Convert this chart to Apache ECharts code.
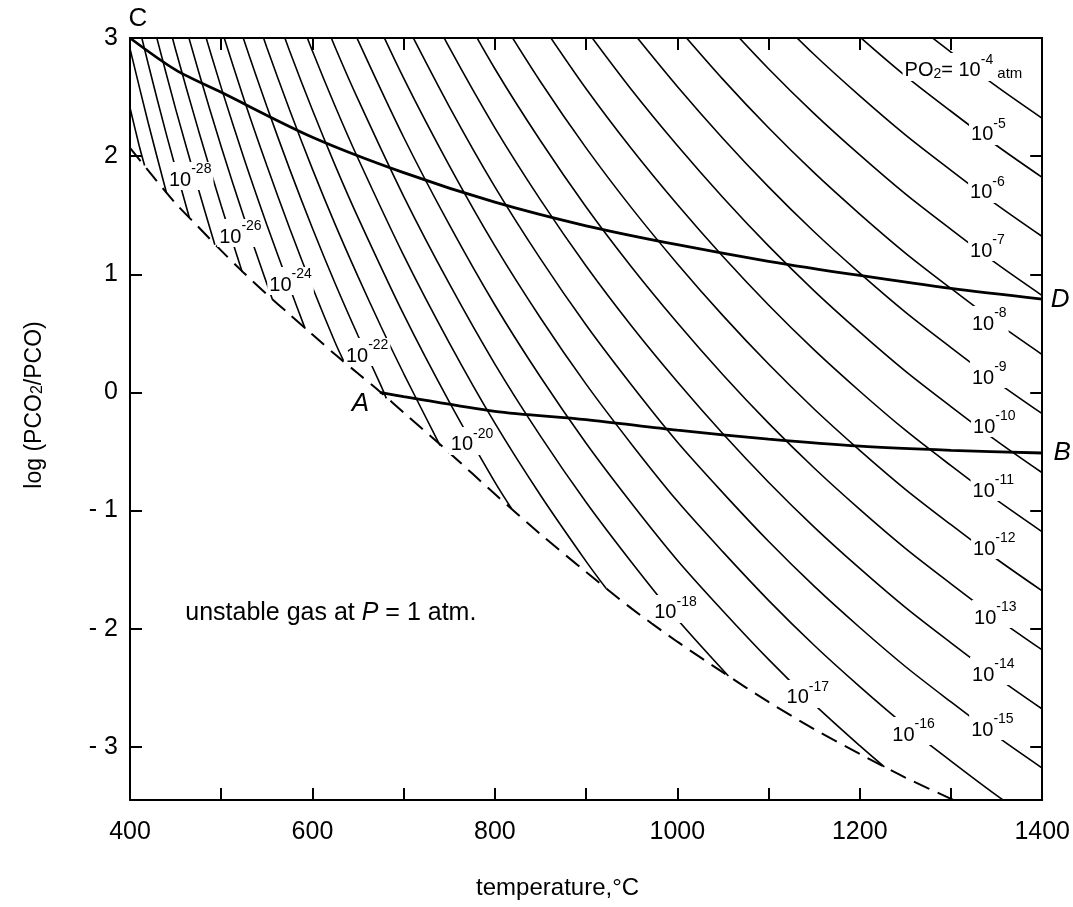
<!DOCTYPE html>
<html>
<head>
<meta charset="utf-8">
<title>log(pCO2/pCO) vs temperature</title>
<script src="https://cdn.jsdelivr.net/npm/echarts@6/dist/echarts.min.js"></script>
<style>
  html, body { margin: 0; padding: 0; background: #fff; }
  #main { width: 1073px; height: 907px; }
</style>
</head>
<body>
<div id="main"></div>
<script>
const FONT = '"Liberation Sans", Arial, Helvetica, sans-serif';

// axis ticks / labels
const xLabelValues = [400, 600, 800, 1000, 1200, 1400];
const yTickValues = [-3, -2, -1, 0, 1, 2, 3];

// pO2 isobars (exponent of 10, atm) as [temperature °C, log ratio]
const po2Exponents = [-4, -5, -6, -7, -8, -9, -10, -11, -12, -13, -14, -15, -16, -17,
  -18, -19, -20, -21, -22, -23, -24, -25, -26, -27, -28, -29, -30];
const isobarLines = [
  [[1250, 3.18], [1300, 2.88], [1350, 2.59], [1400, 2.32]],
  [[1150, 3.36], [1200, 3.01], [1250, 2.68], [1300, 2.38], [1350, 2.09], [1400, 1.82]],
  [[1100, 3.24], [1150, 2.86], [1200, 2.51], [1250, 2.18], [1300, 1.88], [1350, 1.59], [1400, 1.32]],
  [[1050, 3.15], [1100, 2.74], [1150, 2.36], [1200, 2.01], [1250, 1.68], [1300, 1.38], [1350, 1.09], [1400, 0.82]],
  [[1000, 3.09], [1050, 2.65], [1100, 2.24], [1150, 1.86], [1200, 1.51], [1250, 1.18], [1300, 0.88], [1350, 0.59], [1400, 0.32]],
  [[950, 3.06], [1000, 2.59], [1050, 2.15], [1100, 1.74], [1150, 1.36], [1200, 1.01], [1250, 0.68], [1300, 0.38], [1350, 0.09], [1400, -0.18]],
  [[900, 3.07], [950, 2.56], [1000, 2.09], [1050, 1.65], [1100, 1.24], [1150, 0.86], [1200, 0.51], [1250, 0.18], [1300, -0.12], [1350, -0.41], [1400, -0.68]],
  [[850, 3.13], [900, 2.57], [950, 2.06], [1000, 1.59], [1050, 1.15], [1100, 0.74], [1150, 0.36], [1200, 0.01], [1250, -0.32], [1300, -0.62], [1350, -0.91], [1400, -1.18]],
  [[800, 3.24], [850, 2.63], [900, 2.07], [950, 1.56], [1000, 1.09], [1050, 0.65], [1100, 0.24], [1150, -0.14], [1200, -0.49], [1250, -0.82], [1300, -1.12], [1350, -1.41], [1400, -1.68]],
  [[750, 3.42], [800, 2.74], [850, 2.13], [900, 1.57], [950, 1.06], [1000, 0.59], [1050, 0.15], [1100, -0.26], [1150, -0.64], [1200, -0.99], [1250, -1.32], [1300, -1.62], [1350, -1.91], [1400, -2.18]],
  [[700, 3.66], [750, 2.92], [800, 2.24], [850, 1.63], [900, 1.07], [950, 0.56], [1000, 0.09], [1050, -0.35], [1100, -0.76], [1150, -1.14], [1200, -1.49], [1250, -1.82], [1300, -2.12], [1350, -2.41], [1400, -2.68]],
  [[700, 3.16], [750, 2.42], [800, 1.74], [850, 1.13], [900, 0.57], [950, 0.06], [1000, -0.42], [1050, -0.85], [1100, -1.26], [1150, -1.64], [1200, -1.99], [1250, -2.32], [1300, -2.62], [1350, -2.91], [1400, -3.18]],
  [[650, 3.48], [700, 2.66], [750, 1.92], [800, 1.24], [850, 0.63], [900, 0.07], [950, -0.44], [1000, -0.92], [1050, -1.35], [1100, -1.76], [1150, -2.14], [1200, -2.49], [1250, -2.82], [1300, -3.12], [1350, -3.41], [1400, -3.68]],
  [[625, 3.42], [650, 2.98], [700, 2.16], [750, 1.42], [800, 0.74], [850, 0.13], [900, -0.43], [950, -0.94], [1000, -1.42], [1050, -1.85], [1100, -2.26], [1150, -2.64], [1200, -2.99], [1227, -3.17]],
  [[600, 3.39], [625, 2.92], [650, 2.48], [700, 1.66], [750, 0.92], [800, 0.24], [850, -0.37], [900, -0.93], [950, -1.44], [1000, -1.92], [1056, -2.40]],
  [[575, 3.39], [600, 2.89], [625, 2.42], [650, 1.98], [700, 1.16], [750, 0.42], [800, -0.26], [850, -0.87], [900, -1.43], [922, -1.66]],
  [[550, 3.42], [575, 2.89], [600, 2.39], [625, 1.92], [650, 1.48], [700, 0.66], [750, -0.08], [800, -0.76], [818, -0.98]],
  [[525, 3.48], [550, 2.92], [575, 2.39], [600, 1.89], [625, 1.42], [650, 0.98], [675, 0.56], [700, 0.16], [740, -0.45]],
  [[500, 3.58], [525, 2.98], [550, 2.42], [575, 1.89], [600, 1.39], [625, 0.92], [650, 0.48], [675, 0.06], [681, -0.05]],
  [[500, 3.08], [525, 2.48], [550, 1.92], [575, 1.39], [600, 0.89], [625, 0.42], [634, 0.27]],
  [[475, 3.22], [500, 2.58], [525, 1.98], [550, 1.42], [575, 0.89], [592, 0.54]],
  [[450, 3.40], [475, 2.72], [500, 2.08], [525, 1.48], [550, 0.92], [556, 0.79]],
  [[425, 3.63], [450, 2.90], [475, 2.22], [500, 1.58], [523, 1.02]],
  [[425, 3.13], [450, 2.40], [475, 1.72], [493, 1.25]],
  [[400, 3.41], [420, 2.78], [440, 2.18], [465, 1.48]],
  [[400, 2.91], [420, 2.28], [440, 1.69]],
  [[400, 2.41], [410, 2.09], [416, 1.92]]
];

// curve C-D, curve A-B and the dashed carbon deposition limit (P = 1 atm)
const cdCurve = [[400, 3.0], [450, 2.73], [500, 2.54], [600, 2.16], [700, 1.86], [800, 1.61],
  [900, 1.41], [1000, 1.25], [1100, 1.11], [1200, 0.99], [1300, 0.88], [1400, 0.79]];
const abCurve = [[674, 0.0], [700, -0.035], [800, -0.16], [900, -0.23], [1000, -0.32],
  [1100, -0.395], [1200, -0.455], [1300, -0.49], [1400, -0.513]];
const carbonBoundary = [[400, 2.07], [425, 1.83], [450, 1.60], [475, 1.40], [500, 1.20], [525, 1.01],
  [550, 0.83], [575, 0.66], [600, 0.49], [625, 0.32], [650, 0.16], [675, 0.0], [700, -0.17],
  [750, -0.51], [800, -0.86], [850, -1.20], [900, -1.52], [950, -1.83], [1000, -2.11],
  [1050, -2.37], [1100, -2.62], [1150, -2.85], [1200, -3.06], [1250, -3.26], [1300, -3.44], [1350, -3.62]];

// where the isobar labels sit: [temperature, log ratio, exponent]
const isobarLabels = [
  [1313.7, 2.755, -4], [1341, 2.213, -5], [1340, 1.722, -6], [1340, 1.231, -7],
  [1342, 0.613, -8], [1342, 0.156, -9], [1347.5, -0.259, -10], [1346.4, -0.801, -11],
  [1347.5, -1.292, -12], [1348.6, -1.876, -13], [1346.4, -2.358, -14], [1345.4, -2.824, -15],
  [1259, -2.866, -16], [1143, -2.552, -17], [998, -1.833, -18], [775, -0.411, -20],
  [660, 0.342, -22], [576, 0.943, -24], [521, 1.349, -26], [466, 1.832, -28]
];
const pointLetters = [[408.7, 3.16, 'C'], [1419.7, 0.782, 'D'], [1421.9, -0.51, 'B'], [652.5, -0.098, 'A']];
const noteAnchor = [460, -1.867];

const myChart = echarts.init(document.getElementById('main'), null, { renderer: 'canvas' });

const richText = {
  b: { fontSize: 20, fontFamily: FONT, color: '#000', lineHeight: 28, verticalAlign: 'bottom' },
  s: { fontSize: 14, fontFamily: FONT, color: '#000', lineHeight: 14, verticalAlign: 'top' },
  sub: { fontSize: 14, fontFamily: FONT, color: '#000', lineHeight: 14, verticalAlign: 'bottom' },
  a: { fontSize: 15, fontFamily: FONT, color: '#000', lineHeight: 24, verticalAlign: 'bottom' },
  n: { fontSize: 25, fontFamily: FONT, color: '#000' },
  i: { fontSize: 25, fontFamily: FONT, color: '#000', fontStyle: 'italic' }
};

const series = [];
isobarLines.forEach((pts, i) => {
  series.push({
    type: 'line',
    name: 'pO2 = 1e' + po2Exponents[i],
    data: pts,
    symbol: 'none',
    smooth: 0.3,
    silent: true,
    z: 2,
    lineStyle: { color: '#000', width: 1.6 }
  });
});
series.push({
  type: 'line', name: 'carbon limit', data: carbonBoundary, symbol: 'none',
  smooth: 0.3, silent: true, z: 3,
  lineStyle: { color: '#000', width: 2, type: [17, 9] }
});
series.push({
  type: 'line', name: 'C-D', data: cdCurve, symbol: 'none', smooth: 0.3, silent: true, z: 4,
  lineStyle: { color: '#000', width: 2.8 }
});
series.push({
  type: 'line', name: 'A-B', data: abCurve, symbol: 'none', smooth: 0.3, silent: true, z: 4,
  lineStyle: { color: '#000', width: 2.8 }
});

const hiddenDot = { color: '#fff', opacity: 1 };

// labels on the isobars
series.push({
  type: 'scatter',
  name: 'isobar labels',
  symbolSize: 1,
  clip: false,
  silent: true,
  z: 10,
  itemStyle: hiddenDot,
  data: isobarLabels.map(([t, v, e]) => ({
    value: [t, v],
    label: {
      formatter: e === -4
        ? '{b|PO}{sub|2}{b|= 10}{s|-4}{a| atm}'
        : '{b|10}{s|' + e + '}'
    }
  })),
  label: {
    show: true,
    position: 'inside',
    color: '#000',
    textBorderWidth: 0,
    backgroundColor: '#fff',
    padding: [0, 2],
    rich: richText
  }
});

// letters and note
series.push({
  type: 'scatter',
  name: 'letters',
  symbolSize: 1,
  clip: false,
  silent: true,
  z: 10,
  itemStyle: hiddenDot,
  data: pointLetters.map(([t, v, s]) => ({
    value: [t, v],
    label: { formatter: s, fontStyle: s === 'C' ? 'normal' : 'italic' }
  })),
  label: {
    show: true, position: 'inside', fontSize: 26, fontFamily: FONT, color: '#000',
    textBorderWidth: 0
  }
});
series.push({
  type: 'scatter',
  name: 'note',
  symbolSize: 1,
  clip: false,
  silent: true,
  z: 10,
  itemStyle: hiddenDot,
  data: [noteAnchor],
  label: {
    show: true,
    position: 'right',
    distance: 0,
    color: '#000',
    textBorderWidth: 0,
    formatter: '{n|unstable gas at }{i|P}{n| = 1 atm.}',
    rich: richText
  }
});

const axisLineStyle = { show: true, onZero: false, lineStyle: { color: '#000', width: 2 } };
const tickStyle = { show: true, inside: true, length: 12, lineStyle: { color: '#000', width: 2 } };

myChart.setOption({
  animation: false,
  backgroundColor: '#fff',
  grid: { left: 130, right: 28, top: 38, bottom: 107, containLabel: false },
  xAxis: [
    {
      type: 'value', min: 400, max: 1400, interval: 100, position: 'bottom',
      axisLine: axisLineStyle,
      axisTick: tickStyle,
      splitLine: { show: false },
      axisLabel: {
        customValues: xLabelValues, fontSize: 25, fontFamily: FONT, color: '#000', margin: 20,
        formatter: (v) => String(v)
      },
      name: 'temperature,°C',
      nameLocation: 'middle',
      nameGap: 76,
      nameTextStyle: { fontSize: 24, fontFamily: FONT, color: '#000', padding: [0, 57, 0, 0] }
    },
    {
      type: 'value', min: 400, max: 1400, interval: 100, position: 'top',
      axisLine: axisLineStyle,
      axisTick: tickStyle,
      splitLine: { show: false },
      axisLabel: { show: false }
    }
  ],
  yAxis: [
    {
      type: 'value', min: -3.45, max: 3, position: 'left',
      axisLine: axisLineStyle,
      axisTick: Object.assign({ customValues: yTickValues }, tickStyle),
      splitLine: { show: false },
      axisLabel: {
        customValues: yTickValues, fontSize: 25, fontFamily: FONT, color: '#000', margin: 12,
        formatter: (v) => (v < 0 ? '- ' + (-v) : String(v))
      },
      name: '{t|log (PCO}{sub|2}{t|/PCO)}',
      nameLocation: 'middle',
      nameGap: 84,
      nameTextStyle: {
        padding: [0, 0, 0, 28],
        rich: {
          t: { fontSize: 23, fontFamily: FONT, color: '#000', lineHeight: 30, verticalAlign: 'bottom' },
          sub: { fontSize: 16, fontFamily: FONT, color: '#000', lineHeight: 16, verticalAlign: 'bottom' }
        }
      }
    },
    {
      type: 'value', min: -3.45, max: 3, position: 'right',
      axisLine: axisLineStyle,
      axisTick: Object.assign({ customValues: yTickValues }, tickStyle),
      splitLine: { show: false },
      axisLabel: { show: false }
    }
  ],
  series: series
});
</script>
</body>
</html>
